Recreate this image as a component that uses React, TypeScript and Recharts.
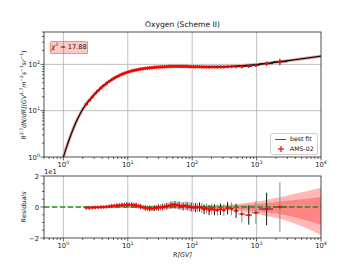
import React from 'react';
import { ComposedChart, Line, Scatter, Area, XAxis, YAxis, ErrorBar, ReferenceLine } from 'recharts';

// best fit curve, R [GV] and R^2.7 flux
const fitR = [1.0, 1.1, 1.25, 1.4, 1.6, 1.8, 2.0, 2.27, 2.53, 2.82, 3.13, 3.46, 3.83, 4.22, 4.65, 5.12, 5.63, 6.18, 6.78, 7.42, 8.11, 8.86, 9.67, 10.5, 11.5, 12.5, 13.5, 14.7, 15.9, 17.3, 18.7, 20.3, 21.9, 23.7, 25.7, 27.7, 29.9, 32.3, 34.8, 37.5, 40.4, 43.5, 46.8, 50.3, 54.1, 58.2, 62.5, 67.2, 72.3, 77.7, 83.4, 89.7, 96.4, 104, 120, 141, 167, 201, 246, 310, 409, 589, 755, 975, 1430, 2300, 4000, 6000, 10000];
const fitFlux = [1.0, 1.52, 2.55, 3.85, 5.95, 8.3, 10.8, 13.9, 16.8, 20.0, 23.6, 27.2, 31.0, 34.8, 38.8, 42.7, 46.6, 50.4, 54.0, 57.4, 60.7, 63.7, 66.4, 68.9, 71.5, 73.6, 75.5, 77.5, 79.1, 80.8, 82.1, 83.4, 84.5, 85.5, 86.4, 87.1, 87.8, 88.3, 88.7, 89.0, 89.3, 89.5, 89.7, 89.8, 89.9, 89.9, 89.9, 89.9, 89.8, 89.7, 89.6, 89.5, 89.4, 89.3, 89.1, 88.9, 88.8, 88.8, 89.0, 89.5, 90.7, 93.5, 96.0, 99.0, 105, 114, 126, 136, 150];

// AMS-02 oxygen points
const amsR = [2.27, 2.53, 2.82, 3.13, 3.46, 3.83, 4.22, 4.65, 5.12, 5.63, 6.18, 6.78, 7.42, 8.11, 8.86, 9.67, 10.5, 11.5, 12.5, 13.5, 14.7, 15.9, 17.3, 18.7, 20.3, 21.9, 23.7, 25.7, 27.7, 29.9, 32.3, 34.8, 37.5, 40.4, 43.5, 46.8, 50.3, 54.1, 58.2, 62.5, 67.2, 72.3, 77.7, 83.4, 89.7, 96.4, 104, 112, 120, 130, 141, 153, 167, 183, 201, 222, 246, 275, 310, 354, 409, 481, 589, 755, 975, 1430, 2300];
const amsEdges = [2.15, 2.40, 2.67, 2.97, 3.29, 3.64, 4.02, 4.43, 4.88, 5.37, 5.90, 6.47, 7.09, 7.76, 8.48, 9.26, 10.1, 11.0, 12.0, 13.0, 14.1, 15.3, 16.6, 18.0, 19.5, 21.1, 22.8, 24.7, 26.7, 28.8, 31.1, 33.5, 36.1, 38.9, 41.9, 45.1, 48.5, 52.2, 56.1, 60.3, 64.8, 69.7, 74.9, 80.5, 86.5, 93.0, 100, 108, 116, 125, 135, 147, 160, 175, 192, 211, 233, 259, 291, 330, 379, 441, 525, 660, 850, 1100, 1800, 3000];
const amsFlux = [13.83, 16.72, 19.92, 23.53, 27.15, 30.97, 34.8, 38.88, 42.87, 46.88, 50.8, 54.54, 58.03, 61.49, 64.59, 67.4, 69.93, 72.5, 74.56, 76.26, 77.97, 79.26, 80.64, 81.61, 82.65, 83.66, 84.65, 85.71, 86.58, 87.45, 88.12, 88.7, 89.27, 89.75, 90.22, 90.78, 91.15, 91.16, 90.98, 90.8, 90.44, 90.16, 90.42, 90.14, 89.68, 89.4, 89.12, 88.84, 88.92, 89.0, 88.46, 87.57, 87.91, 87.02, 87.73, 87.3, 87.22, 87.86, 87.71, 89.28, 89.61, 89.41, 89.29, 91.01, 95.34, 103.6, 114];
const amsErr = [0.14, 0.17, 0.2, 0.24, 0.27, 0.31, 0.35, 0.43, 0.51, 0.56, 0.66, 0.71, 0.81, 0.86, 0.97, 1.01, 1.12, 1.16, 1.19, 1.3, 1.33, 1.35, 1.45, 1.47, 1.49, 1.59, 1.61, 1.63, 1.73, 1.75, 1.76, 1.86, 1.87, 1.97, 1.98, 2.09, 2.1, 2.19, 2.18, 2.27, 2.26, 2.34, 2.35, 2.43, 2.42, 2.5, 2.5, 2.58, 2.67, 2.67, 2.74, 2.8, 2.9, 2.87, 2.98, 3.06, 3.14, 3.25, 3.33, 3.57, 3.76, 4.11, 4.91, 5.64, 6.86, 10.9, 18.2];

// residuals (x 1e1)
const resVal = [-0.05, -0.05, -0.04, -0.03, -0.02, -0.01, 0, 0.02, 0.04, 0.06, 0.08, 0.1, 0.11, 0.13, 0.14, 0.15, 0.15, 0.14, 0.13, 0.1, 0.06, 0.02, -0.02, -0.06, -0.09, -0.1, -0.1, -0.08, -0.06, -0.04, -0.02, 0, 0.03, 0.05, 0.08, 0.12, 0.15, 0.14, 0.12, 0.1, 0.06, 0.04, 0.08, 0.06, 0.02, 0, -0.02, -0.04, -0.02, 0, -0.05, -0.15, -0.1, -0.2, -0.12, -0.18, -0.2, -0.15, -0.2, -0.08, -0.12, -0.25, -0.45, -0.52, -0.37, -0.13, 0];
const resErr = [0.1, 0.1, 0.1, 0.1, 0.1, 0.1, 0.1, 0.11, 0.12, 0.12, 0.13, 0.13, 0.14, 0.14, 0.15, 0.15, 0.16, 0.16, 0.16, 0.17, 0.17, 0.17, 0.18, 0.18, 0.18, 0.19, 0.19, 0.19, 0.2, 0.2, 0.2, 0.21, 0.21, 0.22, 0.22, 0.23, 0.23, 0.24, 0.24, 0.25, 0.25, 0.26, 0.26, 0.27, 0.27, 0.28, 0.28, 0.29, 0.3, 0.3, 0.31, 0.32, 0.33, 0.33, 0.34, 0.35, 0.36, 0.37, 0.38, 0.4, 0.42, 0.46, 0.55, 0.62, 0.72, 1.05, 1.6];

// uncertainty bands of the fit in the residual panel
const bandR = [2, 10, 50, 100, 200, 500, 1000, 3000, 10000];
const outerLo = [-0.06, -0.07, -0.08, -0.09, -0.14, -0.25, -0.45, -0.9, -1.8];
const outerHi = [0.06, 0.06, 0.07, 0.08, 0.12, 0.2, 0.35, 0.75, 1.25];
const innerLo = [-0.035, -0.04, -0.05, -0.06, -0.1, -0.15, -0.28, -0.55, -1.15];
const innerHi = [0.035, 0.035, 0.04, 0.05, 0.08, 0.12, 0.2, 0.4, 0.65];

const xMajor = [1, 10, 100, 1000, 10000];
const xMinor = [0.5, 0.6, 0.7, 0.8, 0.9, 2, 3, 4, 5, 6, 7, 8, 9, 20, 30, 40, 50, 60, 70, 80, 90, 200, 300, 400, 500, 600, 700, 800, 900, 2000, 3000, 4000, 5000, 6000, 7000, 8000, 9000];
const yMajor = [1, 10, 100];
const yMinor = [2, 3, 4, 5, 6, 7, 8, 9, 20, 30, 40, 50, 60, 70, 80, 90, 200, 300, 400, 500];
const resMajor = [-2, 0, 2];
const resMinor = [-1.5, -1, -0.5, 0.5, 1, 1.5];

const fitData = fitR.map((r, i) => ({ r, y: fitFlux[i] }));
const amsData = amsR.map((r, i) => ({
  r,
  y: amsFlux[i],
  yErr: amsErr[i],
  rErr: [r - amsEdges[i], amsEdges[i + 1] - r],
}));
const resData = amsR.map((r, i) => ({
  r,
  y: resVal[i],
  yErr: resErr[i],
  rErr: [r - amsEdges[i], amsEdges[i + 1] - r],
}));
const resGray = resData.filter((_, i) => i % 2 === 0);
const resBlack = resData.filter((_, i) => i % 2 === 1);
const bandData = bandR.map((r, i) => ({ r, outer: [outerLo[i], outerHi[i]], inner: [innerLo[i], innerHi[i]] }));

const FONT = 'DejaVu Sans';
const W = 357;
const AX_L = 44;
const AX_R = 321;

const pow10 = (v: number) => Math.round(Math.log10(v));

const XTick = (props: any) => {
  const { x, y, payload } = props;
  const v = payload.value;
  const major = xMajor.includes(v);
  return (
    <g>
      <line x1={x} x2={x} y1={y} y2={y + (major ? 3.5 : 2)} stroke="#222" strokeWidth={0.7} />
      {major && (
        <text x={x} y={y + 10} textAnchor="middle" fontSize={6.8} fontFamily={FONT} fill="#222">
          10<tspan dy={-3} fontSize={4.8}>{pow10(v)}</tspan>
        </text>
      )}
    </g>
  );
};

const YTick = (props: any) => {
  const { x, y, payload } = props;
  const v = payload.value;
  const major = yMajor.includes(v);
  return (
    <g>
      <line x1={x} x2={x - (major ? 3.5 : 2)} y1={y} y2={y} stroke="#222" strokeWidth={0.7} />
      {major && (
        <text x={x - 4} y={y + 2.5} textAnchor="end" fontSize={6.8} fontFamily={FONT} fill="#222">
          10<tspan dy={-3} fontSize={4.8}>{pow10(v)}</tspan>
        </text>
      )}
    </g>
  );
};

const ResTick = (props: any) => {
  const { x, y, payload } = props;
  const v = payload.value;
  const major = resMajor.includes(v);
  return (
    <g>
      <line x1={x} x2={x - (major ? 3.5 : 2)} y1={y} y2={y} stroke="#222" strokeWidth={0.7} />
      {major && (
        <text x={x - 5} y={y + 2.5} textAnchor="end" fontSize={6.8} fontFamily={FONT} fill="#222">
          {v < 0 ? '\u2212' + Math.abs(v) : String(v)}
        </text>
      )}
    </g>
  );
};

const Plus = (props: any) => {
  const { cx, cy } = props;
  if (cx == null || cy == null) return null;
  return (
    <g>
      <line x1={cx - 1.6} x2={cx + 1.6} y1={cy} y2={cy} stroke="#ff0000" strokeWidth={1.4} />
      <line x1={cx} x2={cx} y1={cy - 1.6} y2={cy + 1.6} stroke="#ff0000" strokeWidth={1.4} />
    </g>
  );
};

const gridX = [1, 10, 100, 1000];
const gridY = [10, 100];

export default function App() {
  return (
    <div style={{ position: 'absolute', left: 0, top: 0, width: W, height: 268, background: '#fff', fontFamily: FONT }}>
      {/* top panel */}
      <div style={{ position: 'absolute', left: 0, top: 0 }}>
        <ComposedChart width={W} height={170} margin={{ top: 32, right: W - AX_R, bottom: 0, left: 0 }}>
          <XAxis
            type="number"
            dataKey="r"
            scale="log"
            domain={[0.5, 10000]}
            allowDataOverflow
            ticks={[...xMajor, ...xMinor]}
            interval={0}
            tick={XTick}
            tickLine={false}
            axisLine={false}
            tickSize={0}
            tickMargin={0}
            height={13}
          />
          <YAxis
            type="number"
            dataKey="y"
            scale="log"
            domain={[1, 500]}
            allowDataOverflow
            ticks={[...yMajor, ...yMinor]}
            interval={0}
            tick={YTick}
            tickLine={false}
            axisLine={false}
            tickSize={0}
            tickMargin={0}
            width={AX_L}
          />
          {gridX.map((g) => (
            <ReferenceLine key={'gx' + g} x={g} stroke="#b0b0b0" strokeWidth={0.8} />
          ))}
          {gridY.map((g) => (
            <ReferenceLine key={'gy' + g} y={g} stroke="#b0b0b0" strokeWidth={0.8} />
          ))}
          <Line data={fitData} dataKey="y" type="monotone" stroke="#f3a3a3" strokeWidth={3.2} dot={false} isAnimationActive={false} />
          <Line data={fitData} dataKey="y" type="monotone" stroke="#111" strokeWidth={1.3} dot={false} isAnimationActive={false} />
          <Scatter data={amsData} dataKey="y" shape={Plus} isAnimationActive={false}>
            <ErrorBar dataKey="yErr" direction="y" width={0} stroke="#111" strokeWidth={0.9} />
            <ErrorBar dataKey="rErr" direction="x" width={0} stroke="#111" strokeWidth={0.9} />
          </Scatter>
        </ComposedChart>
      </div>

      {/* residual panel */}
      <div style={{ position: 'absolute', left: 0, top: 170 }}>
        <ComposedChart width={W} height={98} margin={{ top: 6, right: W - AX_R, bottom: 16, left: 0 }}>
          <XAxis
            type="number"
            dataKey="r"
            scale="log"
            domain={[0.5, 10000]}
            allowDataOverflow
            ticks={[...xMajor, ...xMinor]}
            interval={0}
            tick={XTick}
            tickLine={false}
            axisLine={false}
            tickSize={0}
            tickMargin={0}
            height={14}
          />
          <YAxis
            type="number"
            dataKey="y"
            domain={[-2, 2]}
            allowDataOverflow
            ticks={[...resMajor, ...resMinor]}
            interval={0}
            tick={ResTick}
            tickLine={false}
            axisLine={false}
            tickSize={0}
            tickMargin={0}
            width={AX_L}
          />
          {gridX.map((g) => (
            <ReferenceLine key={'rx' + g} x={g} stroke="#b0b0b0" strokeWidth={0.8} />
          ))}
          <Area data={bandData} dataKey="outer" type="monotone" stroke="none" fill="#ff0000" fillOpacity={0.28} isAnimationActive={false} />
          <Area data={bandData} dataKey="inner" type="monotone" stroke="none" fill="#ff0000" fillOpacity={0.28} isAnimationActive={false} />
          <Scatter data={resGray} dataKey="y" shape={Plus} isAnimationActive={false}>
            <ErrorBar dataKey="yErr" direction="y" width={0} stroke="#8a8a8a" strokeWidth={1} />
            <ErrorBar dataKey="rErr" direction="x" width={0} stroke="#555" strokeWidth={0.9} />
          </Scatter>
          <Scatter data={resBlack} dataKey="y" shape={Plus} isAnimationActive={false}>
            <ErrorBar dataKey="yErr" direction="y" width={0} stroke="#1a1a1a" strokeWidth={1} />
            <ErrorBar dataKey="rErr" direction="x" width={0} stroke="#1a1a1a" strokeWidth={0.9} />
          </Scatter>
          <ReferenceLine y={0} stroke="#1f8a1f" strokeWidth={1.4} strokeDasharray="5.5 2.4" />
        </ComposedChart>
      </div>

      {/* frames and labels */}
      <svg width={W} height={268} style={{ position: 'absolute', left: 0, top: 0, pointerEvents: 'none' }}>
        <rect x={AX_L} y={32} width={AX_R - AX_L} height={125} fill="none" stroke="#222" strokeWidth={0.8} />
        <rect x={AX_L} y={176} width={AX_R - AX_L} height={62} fill="none" stroke="#222" strokeWidth={0.8} />
        <text x={(AX_L + AX_R) / 2} y={27} textAnchor="middle" fontSize={7.6} fontFamily={FONT} fill="#111">
          Oxygen (Scheme II)
        </text>
        <text transform="translate(26 95) rotate(-90)" textAnchor="middle" fontSize={6.3} fontFamily={FONT} fill="#222">
          <tspan fontStyle="italic">R</tspan>
          <tspan dy={-2.6} fontSize={4.4}>2.7</tspan>
          <tspan dy={2.6} fontStyle="italic">dN/dR[(GV</tspan>
          <tspan dy={-2.6} fontSize={4.4}>1.7</tspan>
          <tspan dy={2.6} fontStyle="italic">m</tspan>
          <tspan dy={-2.6} fontSize={4.4}>{'\u22122'}</tspan>
          <tspan dy={2.6} fontStyle="italic">s</tspan>
          <tspan dy={-2.6} fontSize={4.4}>{'\u22121'}</tspan>
          <tspan dy={2.6} fontStyle="italic">sr</tspan>
          <tspan dy={-2.6} fontSize={4.4}>{'\u22121'}</tspan>
          <tspan dy={2.6}>)</tspan>
        </text>
        <text x={AX_L} y={174} fontSize={6.8} fontFamily={FONT} fill="#222">1e1</text>
        <text transform="translate(26 207) rotate(-90)" textAnchor="middle" fontSize={6.5} fontStyle="italic" fontFamily={FONT} fill="#222">
          Residuals
        </text>
        <text x={(AX_L + AX_R) / 2} y={257} textAnchor="middle" fontSize={6.5} fontStyle="italic" fontFamily={FONT} fill="#222">
          R[GV]
        </text>
      </svg>

      {/* chi-square box */}
      <div
        style={{
          position: 'absolute',
          left: 50,
          top: 41,
          width: 38,
          height: 13,
          boxSizing: 'border-box',
          background: 'rgba(255,0,0,0.22)',
          border: '1px solid rgba(220,100,100,0.55)',
          borderRadius: 1.5,
          fontSize: 6.6,
          lineHeight: '11px',
          textAlign: 'center',
          color: '#111',
        }}
      >
        <i>{'\u03c7'}</i>
        <sup style={{ fontSize: 4.5, lineHeight: 0 }}>2</sup> = 17.88
      </div>

      {/* legend */}
      <div
        style={{
          position: 'absolute',
          left: 270,
          top: 133,
          width: 48,
          height: 22,
          boxSizing: 'border-box',
          background: 'rgba(255,255,255,0.85)',
          border: '0.8px solid #d0d0d0',
          borderRadius: 2,
          fontSize: 6.2,
          color: '#111',
        }}
      >
        <div style={{ position: 'absolute', left: 4, top: 4.5, width: 11, height: 1.6, background: '#555' }} />
        <div style={{ position: 'absolute', left: 19, top: 1, lineHeight: '8px' }}>best fit</div>
        <svg width={12} height={8} style={{ position: 'absolute', left: 4, top: 11 }}>
          <line x1={3} x2={9} y1={4} y2={4} stroke="#ff0000" strokeWidth={1.2} />
          <line x1={6} x2={6} y1={1} y2={7} stroke="#ff0000" strokeWidth={1.2} />
        </svg>
        <div style={{ position: 'absolute', left: 19, top: 11, lineHeight: '8px' }}>AMS-02</div>
      </div>
    </div>
  );
}
